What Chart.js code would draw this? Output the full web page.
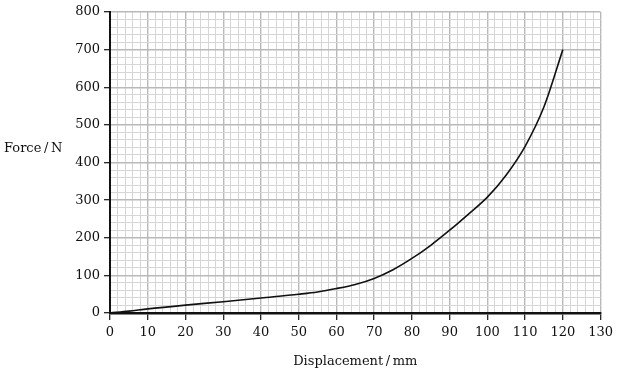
<!DOCTYPE html>
<html>
<head>
<meta charset="utf-8">
<script src="https://cdn.jsdelivr.net/npm/chart.js@4.4.1/dist/chart.umd.min.js"></script>
<style>
  html, body { margin: 0; padding: 0; background: #fff; }
  #wrap { width: 618px; height: 375px; position: relative; }
</style>
</head>
<body>
<div id="wrap"><canvas id="forceChart" width="618" height="375"></canvas></div>
<script>
// displacement (mm) and force (N)
const displacement = [0, 5, 10, 20, 30, 40, 50, 55, 60, 65, 70, 75, 80, 85, 90, 95, 100, 105, 110, 115, 120];
const force = [0, 5, 11, 21, 30, 40, 50, 56, 65, 76, 92, 115, 145, 180, 220, 263, 308, 367, 443, 548, 700];

const xTitle = 'Displacement\u2009/\u2009mm';
const yTitle = 'Force\u2009/\u2009N';

const FONT = "'DejaVu Serif', serif";

// axis titles are drawn flat, like the original
const axisTitles = {
    id: 'axisTitles',
    afterDraw(chart) {
        const ctx = chart.ctx;
        const area = chart.chartArea;
        ctx.save();
        ctx.fillStyle = '#111';
        ctx.font = '13px ' + FONT;
        ctx.textBaseline = 'middle';
        ctx.textAlign = 'left';
        ctx.fillText(yTitle, 4, 149);
        ctx.textAlign = 'center';
        ctx.fillText(xTitle, (area.left + area.right) / 2, 362);
        ctx.restore();
    }
};

const gridColor = ctx => (ctx.tick && ctx.tick.value % 10 === 0) ? '#b9b9b9' : '#d6d6d6';

new Chart(document.getElementById('forceChart'), {
    type: 'line',
    data: {
        datasets: [{
            data: displacement.map((x, i) => ({ x: x, y: force[i] })),
            borderColor: '#111',
            borderWidth: 1.6,
            pointRadius: 0,
            cubicInterpolationMode: 'monotone',
            fill: false
        }]
    },
    options: {
        responsive: false,
        animation: false,
        layout: { padding: { top: 12, right: 17, left: 0, bottom: 0 } },
        plugins: { legend: { display: false }, tooltip: { enabled: false } },
        scales: {
            x: {
                type: 'linear',
                min: 0, max: 130,
                afterFit: s => { s.height = 62; },
                border: { color: '#111', width: 2.5 },
                grid: {
                    color: gridColor,
                    lineWidth: ctx => (ctx.tick && ctx.tick.value % 10 === 0) ? 1.4 : 1,
                    tickLength: 7,
                    tickColor: ctx => (ctx.tick && ctx.tick.value % 10 === 0) ? '#111' : 'rgba(0,0,0,0)',
                    tickWidth: 1.2
                },
                ticks: {
                    stepSize: 2,
                    autoSkip: false,
                    maxRotation: 0,
                    padding: 5,
                    color: '#111',
                    font: { family: FONT, size: 13 },
                    callback: v => v % 10 === 0 ? v : ''
                }
            },
            y: {
                min: 0, max: 800,
                afterFit: s => { s.width = 110; },
                border: { color: '#111', width: 2 },
                grid: {
                    color: ctx => (ctx.tick && ctx.tick.value % 100 === 0) ? '#b9b9b9' : '#d6d6d6',
                    lineWidth: ctx => (ctx.tick && ctx.tick.value % 100 === 0) ? 1.4 : 1,
                    tickLength: 6,
                    tickColor: ctx => (ctx.tick && ctx.tick.value % 100 === 0) ? '#111' : 'rgba(0,0,0,0)',
                    tickWidth: 1.2
                },
                ticks: {
                    stepSize: 20,
                    autoSkip: false,
                    padding: 4,
                    color: '#111',
                    font: { family: FONT, size: 13 },
                    callback: v => v % 100 === 0 ? v : ''
                }
            }
        }
    },
    plugins: [axisTitles]
});
</script>
</body>
</html>
